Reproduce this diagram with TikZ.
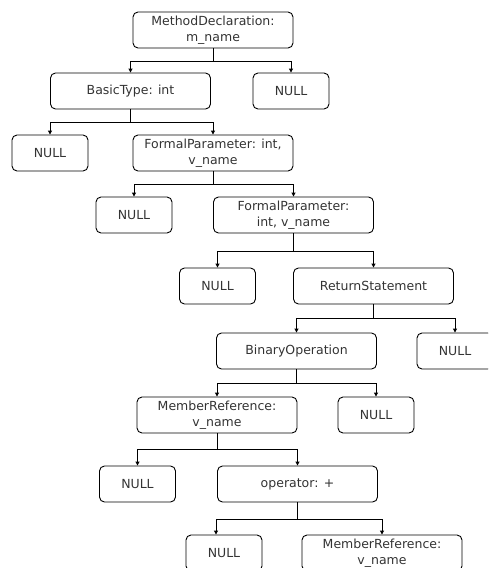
\documentclass[tikz,border=0pt]{standalone}
\usepackage{fontspec}
\setmainfont{DejaVu Sans}
\usepackage{tikz}
\usetikzlibrary{arrows.meta}
\tikzset{box/.style={rectangle,rounded corners=5pt,draw,line width=0.9pt,text=black!80,align=center,minimum width=160pt,minimum height=36pt,inner sep=1pt,font=\fontsize{12.5}{15.5}\selectfont},
  nul/.style={box,minimum width=76pt},
  edge/.style={-{Triangle[length=4pt,width=4pt]},line width=0.9pt}}

\begin{document}
\begin{tikzpicture}[x=1pt,y=-1pt]
    \useasboundingbox (0,0) rectangle (488,568);
    \clip (0,0) rectangle (488,568);
    \node[box] (md) at (213,30) {MethodDeclaration:\\m\_name};
    \node[box] (bt) at (130.5,91) {BasicType: int};
    \node[nul] (n1) at (291,91) {NULL};
    \node[nul] (n2) at (50,153) {NULL};
    \node[box] (fp1) at (213,153) {FormalParameter: int,\\v\_name};
    \node[nul] (n3) at (134,215) {NULL};
    \node[box] (fp2) at (293.5,215) {FormalParameter:\\int, v\_name};
    \node[nul] (n4) at (217.5,286) {NULL};
    \node[box] (rs) at (373.5,286) {ReturnStatement};
    \node[box] (bo) at (296.5,351) {BinaryOperation};
    \node[nul] (n5) at (455,351) {NULL};
    \node[box] (mr1) at (217,415) {MemberReference:\\v\_name};
    \node[nul] (n6) at (376,415) {NULL};
    \node[nul] (n7) at (137.5,484) {NULL};
    \node[box] (op) at (297.5,484) {operator: +};
    \node[nul] (n8) at (224,553) {NULL};
    \node[box] (mr2) at (382,553) {MemberReference:\\v\_name};

    \draw [edge] (md.south) -- ++(0,13) -| (bt.north);
    \draw [edge] (md.south) -- ++(0,13) -| (n1.north);
    \draw [edge] (bt.south) -- ++(0,13) -| (n2.north);
    \draw [edge] (bt.south) -- ++(0,13) -| (fp1.north);
    \draw [edge] (fp1.south) -- ++(0,13) -| (n3.north);
    \draw [edge] (fp1.south) -- ++(0,13) -| (fp2.north);
    \draw [edge] (fp2.south) -- ++(0,18) -| (n4.north);
    \draw [edge] (fp2.south) -- ++(0,18) -| (rs.north);
    \draw [edge] (rs.south) -- ++(0,14) -| (bo.north);
    \draw [edge] (rs.south) -- ++(0,14) -| (n5.north);
    \draw [edge] (bo.south) -- ++(0,14) -| (mr1.north);
    \draw [edge] (bo.south) -- ++(0,14) -| (n6.north);
    \draw [edge] (mr1.south) -- ++(0,16) -| (n7.north);
    \draw [edge] (mr1.south) -- ++(0,16) -| (op.north);
    \draw [edge] (op.south) -- ++(0,17) -| ([xshift=-8pt]n8.north);
    \draw [edge] (op.south) -- ++(0,17) -| (mr2.north);
\end{tikzpicture}
\end{document}
